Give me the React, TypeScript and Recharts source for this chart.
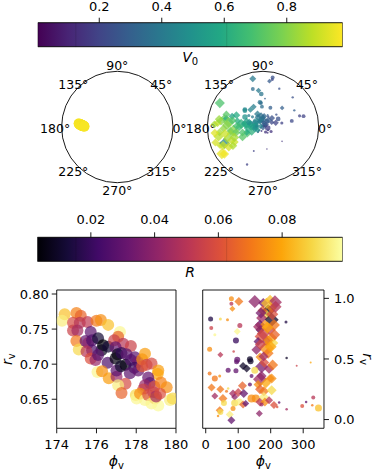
import React from "react";
import {
  Bar,
  BarChart,
  Label,
  PolarAngleAxis,
  PolarRadiusAxis,
  Radar,
  RadarChart,
  ReferenceLine,
  Scatter,
  ScatterChart,
  XAxis,
  YAxis
} from "recharts";

const W = 381;
const H = 476;
const FONT = "'DejaVu Sans', sans-serif";
const THIN = 0.01; // an axis with zero size is not drawn at all

// colour bars
const v0Span = [0.003, 0.979];
const v0Ticks = [0.2, 0.4, 0.6, 0.8];
const v0Seams = [0.125, 0.608];
const rSpan = [0.0032, 0.099];
const rTicks = [0.02, 0.04, 0.06, 0.08];
const rSeams = [0.0153, 0.0626];

const angleLabels = ["0°", "45°", "90°", "135°", "180°", "225°", "270°", "315°"];

// left run: phi (deg), r, R (colour); V0 is the same for every point
const leftPhi = [
  174.4, 174.27, 174.99, 175.21, 174.82, 175.16, 175.55, 174.82, 175.04, 175.71,
  176.0, 176.22, 176.59, 174.99, 175.11, 175.45, 175.58, 175.78, 176.08, 176.33,
  176.25, 176.59, 175.78, 175.5, 175.71, 175.95, 176.08, 176.56, 176.05, 176.28,
  176.62, 177.01, 177.01, 177.18, 177.09, 176.89, 177.34, 176.96, 177.06, 176.96,
  177.26, 177.73, 177.51, 177.23, 177.46, 177.73, 177.93, 178.1, 177.9, 177.68,
  178.1, 178.3, 178.44, 178.52, 178.3, 178.77, 177.46, 177.09, 179.11, 179.08,
  178.6, 178.69, 178.44, 178.91, 179.24, 178.35, 179.53, 177.98, 178.02, 178.19,
  178.44, 178.6, 178.86, 178.94, 178.77, 179.11, 179.0, 179.7, 179.83, 179.2,
  177.26
];
const leftR = [
  0.771, 0.762, 0.773, 0.769, 0.759, 0.759, 0.76, 0.748, 0.748, 0.746,
  0.762, 0.763, 0.756, 0.733, 0.721, 0.733, 0.73, 0.734, 0.737, 0.727,
  0.72, 0.725, 0.72, 0.718, 0.708, 0.706, 0.713, 0.702, 0.689, 0.69,
  0.68, 0.682, 0.691, 0.746, 0.739, 0.734, 0.729, 0.724, 0.714, 0.708,
  0.716, 0.726, 0.714, 0.697, 0.699, 0.706, 0.71, 0.703, 0.695, 0.687,
  0.691, 0.707, 0.715, 0.699, 0.697, 0.701, 0.672, 0.67, 0.691, 0.686,
  0.681, 0.673, 0.67, 0.668, 0.674, 0.664, 0.667, 0.656, 0.651, 0.658,
  0.649, 0.656, 0.66, 0.651, 0.644, 0.641, 0.654, 0.649, 0.651, 0.658,
  0.659
];
const leftRc = [
  0.085, 0.095, 0.072, 0.065, 0.058, 0.05, 0.052, 0.055, 0.045, 0.028,
  0.07, 0.075, 0.085, 0.07, 0.09, 0.03, 0.04, 0.025, 0.012, 0.003,
  0.008, 0.012, 0.025, 0.05, 0.06, 0.042, 0.028, 0.025, 0.097, 0.075,
  0.078, 0.042, 0.028, 0.097, 0.065, 0.055, 0.05, 0.03, 0.008, 0.005,
  0.018, 0.055, 0.028, 0.01, 0.006, 0.025, 0.028, 0.035, 0.02, 0.028,
  0.03, 0.075, 0.078, 0.055, 0.062, 0.058, 0.058, 0.095, 0.078, 0.08,
  0.03, 0.028, 0.042, 0.058, 0.072, 0.055, 0.075, 0.09, 0.097, 0.075,
  0.097, 0.06, 0.055, 0.075, 0.097, 0.098, 0.045, 0.095, 0.09, 0.06,
  0.065
];
const leftV0 = 0.97;
const leftWeight = 12;

// right run: phi (deg), r, R, V0, weight, marker
const rightPhi = [
  79, 102, 79, 82, 151, 177, 198, 213, 192, 203,
  187, 172, 203, 167, 182, 167, 198, 172, 203, 161,
  187, 208, 187, 156, 192, 15, 45, 67, 105, 17,
  28, 97, 93, 247, 12, 86, 45, 136, 97, 249,
  95, 115, 126, 138, 167, 172, 151, 69, 93, 12,
  28, 43, 141, 167, 172, 203, 161, 167, 179, 203,
  136, 18, 45, 28, 69, 84, 100, 113, 117, 53,
  56, 89, 89, 103, 115, 123, 141, 154, 167, 179,
  182, 195, 172, 43, 45, 84, 74, 79, 38, 226,
  220, 249, 280, 323, 297, 309, 331, 328, 347, 64,
  187, 161, 177, 192, 198, 205, 175, 210, 168, 200,
  180, 195, 185, 210, 165, 215, 170, 190, 212, 178,
  206
];
const rightR = [
  0.997, 0.975, 0.955, 0.914, 0.975, 0.961, 0.989, 0.969, 0.898, 0.92,
  0.865, 0.837, 0.823, 0.782, 0.782, 0.741, 0.741, 0.686, 0.672, 0.645,
  0.645, 0.631, 0.589, 0.575, 0.548, 0.829, 0.829, 0.823, 0.777, 0.755,
  0.7, 0.727, 0.653, 0.804, 0.581, 0.562, 0.534, 0.498, 0.493, 0.507,
  0.476, 0.441, 0.421, 0.482, 0.517, 0.435, 0.407, 0.407, 0.402, 0.38,
  0.339, 0.36, 0.36, 0.333, 0.36, 0.339, 0.289, 0.25, 0.234, 0.242,
  0.289, 0.264, 0.25, 0.195, 0.256, 0.215, 0.223, 0.278, 0.215, 0.174,
  0.137, 0.187, 0.137, 0.145, 0.124, 0.132, 0.174, 0.174, 0.145, 0.187,
  0.145, 0.16, 0.124, 0.077, 0.063, 0.091, 0.041, -0.006, 0.03, 0.14,
  0.104, 0.085, 0.443, 0.471, 0.112, 0.145, 0.182, 0.118, 0.096, 0.234,
  0.959, 0.765, 0.711, 0.655, 0.339, 0.87, 0.9, 0.78, 0.62, 0.6,
  0.47, 0.42, 0.3, 0.12, 0.05, 0.93, 0.88, 0.76, 0.7, 0.52,
  0.45
];
const rightRc = [
  0.075, 0.07, 0.05, 0.075, 0.04, 0.035, 0.085, 0.045, 0.005, 0.075,
  0.09, 0.045, 0.01, 0.03, 0.075, 0.02, 0.055, 0.06, 0.075, 0.03,
  0.045, 0.09, 0.075, 0.04, 0.07, 0.015, 0.09, 0.075, 0.05, 0.055,
  0.097, 0.097, 0.02, 0.015, 0.075, 0.055, 0.05, 0.01, 0.03, 0.01,
  0.03, 0.01, 0.01, 0.01, 0.075, 0.035, 0.09, 0.03, 0.03, 0.07,
  0.07, 0.075, 0.03, 0.045, 0.04, 0.075, 0.075, 0.065, 0.07, 0.09,
  0.03, 0.07, 0.07, 0.045, 0.09, 0.045, 0.055, 0.065, 0.03, 0.07,
  0.09, 0.04, 0.09, 0.095, 0.065, 0.03, 0.075, 0.075, 0.05, 0.095,
  0.075, 0.05, 0.045, 0.07, 0.09, 0.075, 0.095, 0.03, 0.075, 0.03,
  0.06, 0.045, 0.055, 0.08, 0.06, 0.03, 0.05, 0.07, 0.085, 0.07,
  0.085, 0.045, 0.055, 0.075, 0.075, 0.06, 0.065, 0.07, 0.055, 0.08,
  0.06, 0.045, 0.08, 0.06, 0.04, 0.05, 0.035, 0.08, 0.065, 0.045,
  0.07
];
const rightV0 = [
  0.25, 0.4, 0.22, 0.28, 0.7, 0.85, 0.92, 0.95, 0.88, 0.9,
  0.85, 0.8, 0.45, 0.75, 0.82, 0.6, 0.85, 0.78, 0.88, 0.55,
  0.7, 0.9, 0.8, 0.6, 0.75, 0.2, 0.25, 0.25, 0.35, 0.2,
  0.3, 0.4, 0.38, 0.2, 0.22, 0.3, 0.3, 0.45, 0.38, 0.2,
  0.35, 0.42, 0.45, 0.48, 0.6, 0.62, 0.5, 0.3, 0.35, 0.2,
  0.25, 0.25, 0.4, 0.55, 0.6, 0.7, 0.5, 0.5, 0.55, 0.62,
  0.4, 0.2, 0.25, 0.22, 0.3, 0.32, 0.35, 0.4, 0.38, 0.28,
  0.3, 0.35, 0.33, 0.38, 0.4, 0.4, 0.45, 0.45, 0.5, 0.55,
  0.5, 0.5, 0.45, 0.25, 0.28, 0.3, 0.3, 0.3, 0.2, 0.15,
  0.15, 0.15, 0.15, 0.15, 0.15, 0.15, 0.15, 0.15, 0.18, 0.25,
  0.93, 0.72, 0.8, 0.82, 0.6, 0.9, 0.88, 0.92, 0.7, 0.85,
  0.65, 0.7, 0.6, 0.5, 0.45, 0.96, 0.83, 0.9, 0.86, 0.68,
  0.72
];
const rightWeight = [
  5, 9, 4, 6, 13, 10, 10, 14, 13, 10,
  10, 11, 14, 10, 10, 9, 11, 14, 11, 9,
  10, 10, 15, 10, 11, 5, 3, 3, 5, 4,
  3, 7, 6, 3, 5, 2.5, 6, 6, 6, 2.5,
  5, 8, 8, 6, 9, 13, 7, 5, 5, 4,
  6, 3, 4, 14, 10, 10, 9, 10, 10, 10,
  4, 8, 8, 7, 2.5, 8, 9, 9, 9, 9,
  6, 7, 7, 7, 8, 7, 8, 8, 9, 10,
  9, 8, 4, 8, 6, 5, 8, 8, 2.5, 2.5,
  2.5, 2.5, 2, 2, 4, 2.5, 4, 2.5, 7, 3,
  11, 10, 13, 10, 9, 12, 10, 12, 11, 12,
  10, 10, 10, 8, 7, 12, 11, 12, 11, 10,
  11
];
const rightShape = [
  "o", "D", "o", "D", "D", "D", "D", "D", "D", "D",
  "D", "D", "D", "D", "D", "D", "D", "D", "D", "D",
  "D", "D", "D", "D", "D", "o", "o", "o", "o", "o",
  "o", "D", "o", "o", "o", "o", "D", "o", "o", "o",
  "o", "D", "D", "o", "D", "D", "o", "o", "o", "o",
  "o", "o", "o", "D", "D", "D", "D", "D", "D", "D",
  "o", "D", "D", "D", "o", "D", "D", "D", "D", "D",
  "o", "D", "o", "o", "D", "D", "o", "o", "D", "D",
  "D", "D", "o", "D", "o", "o", "D", "D", "o", "o",
  "o", "o", "o", "o", "o", "o", "o", "o", "o", "o",
  "D", "D", "D", "D", "D", "D", "D", "D", "D", "D",
  "D", "D", "D", "D", "D", "D", "D", "D", "D", "D",
  "D"
];

// axes
const leftXDomain = [174, 180];
const leftYDomain = [0.6086, 0.8057];
const leftXTicks = [174, 176, 178, 180];
const leftYTicks = [0.65, 0.7, 0.75, 0.8];
const leftYMinor = [0.61, 0.62, 0.63, 0.64, 0.66, 0.67, 0.68, 0.69, 0.71, 0.72, 0.73, 0.74, 0.76, 0.77, 0.78, 0.79];
const rightXDomain = [-9.3, 364];
const rightYDomain = [-0.072, 1.069];
const rightXTicks = [0, 100, 200, 300];
const rightXMinor = [20, 40, 60, 80, 120, 140, 160, 180, 220, 240, 260, 280, 320, 340, 360];
const rightYTicks = [0, 0.5, 1];
const rightYMinor = [0.1, 0.2, 0.3, 0.4, 0.6, 0.7, 0.8, 0.9];
const polarMax = 1.1;

const viridis = ["#440154", "#482475", "#414487", "#355f8d", "#2a788e", "#21918c", "#22a884", "#44bf70", "#7ad151", "#bddf26", "#fde725"];
const inferno = ["#000004", "#160b39", "#420a68", "#6a176e", "#932667", "#bc3754", "#dd513a", "#f37819", "#fca50a", "#f6d746", "#fcffa4"];

function hex(h: string) {
  return [1, 3, 5].map((i) => parseInt(h.slice(i, i + 2), 16));
}

function colourAt(stops: string[], t: number) {
  const u = Math.min(1, Math.max(0, t)) * (stops.length - 1);
  const i = Math.min(stops.length - 2, Math.floor(u));
  const f = u - i;
  const a = hex(stops[i]);
  const b = hex(stops[i + 1]);
  const c = a.map((v, k) => Math.round(v + (b[k] - v) * f));
  return `rgb(${c[0]},${c[1]},${c[2]})`;
}

const v0Colour = (v: number) => colourAt(viridis, (v - v0Span[0]) / (v0Span[1] - v0Span[0]));
const rColour = (v: number) => colourAt(inferno, (v - rSpan[0]) / (rSpan[1] - rSpan[0]));

const toXY = (phi: number, r: number) => ({
  x: r * Math.cos((phi * Math.PI) / 180),
  y: r * Math.sin((phi * Math.PI) / 180)
});

const leftRows = leftPhi.map((phi, i) => ({
  phi, r: leftR[i], R: leftRc[i], V0: leftV0, w: leftWeight, shape: "o", ...toXY(phi, leftR[i])
}));
const rightRows = rightPhi.map((phi, i) => ({
  phi, r: rightR[i], R: rightRc[i], V0: rightV0[i], w: rightWeight[i], shape: rightShape[i], ...toXY(phi, rightR[i])
}));
const angleRows = angleLabels.map((label) => ({ label, zero: 0 }));

const tickFont = { fontSize: 13, fill: "#000", fontFamily: FONT };
const black = { stroke: "#000", strokeWidth: 0.9 };

function marker(colourOf: (d: any) => string, scale: number, alpha: number) {
  return (props: any) => {
    const { cx, cy, payload } = props;
    if (!Number.isFinite(cx) || !Number.isFinite(cy)) return <g />;
    const h = (payload.w * scale) / 2;
    const fill = colourOf(payload);
    if (payload.shape === "D") {
      return (
        <polygon
          points={`${cx},${cy - h} ${cx + h},${cy} ${cx},${cy + h} ${cx - h},${cy}`}
          fill={fill}
          fillOpacity={alpha}
        />
      );
    }
    return <circle cx={cx} cy={cy} r={h} fill={fill} fillOpacity={alpha} />;
  };
}

function MathText({ x, y, main, sub, rotate = 0 }: any) {
  return (
    <text
      x={x}
      y={y}
      textAnchor="middle"
      fontFamily={FONT}
      fontSize={14}
      fill="#000"
      transform={rotate ? `rotate(${rotate}, ${x}, ${y})` : undefined}
    >
      <tspan fontStyle="italic">{main}</tspan>
      <tspan fontSize={10} dy={3}>
        {sub}
      </tspan>
    </text>
  );
}

function ColourBar({ top, left, right, span, ticks, seams, stops, id, main, sub, decimals, tickMargin }: any) {
  const bottom = top + 24.5;
  return (
    <BarChart
      width={W}
      height={H}
      layout="vertical"
      data={[{ name: id, span }]}
      barCategoryGap={0}
      margin={{ top, left, right: W - right, bottom: H - bottom }}
    >
      <defs>
        <linearGradient id={id} x1="0" y1="0" x2="1" y2="0">
          {stops.map((c: string, i: number) => (
            <stop key={i} offset={i / (stops.length - 1)} stopColor={c} />
          ))}
        </linearGradient>
      </defs>
      <XAxis
        type="number"
        orientation="top"
        domain={span}
        allowDataOverflow
        ticks={ticks}
        interval={0}
        height={THIN}
        tickSize={5}
        tickMargin={tickMargin}
        tick={tickFont}
        tickLine={black}
        axisLine={false}
        tickFormatter={(v: number) => v.toFixed(decimals)}
      />
      <XAxis
        xAxisId="label"
        type="number"
        orientation="bottom"
        domain={span}
        ticks={[span[0]]}
        height={THIN}
        tick={false}
        tickLine={false}
        axisLine={false}
      >
        <Label
          content={(p: any) => (
            <MathText x={p.viewBox.x + p.viewBox.width / 2} y={p.viewBox.y + 15} main={main} sub={sub} />
          )}
        />
      </XAxis>
      <YAxis type="category" dataKey="name" hide />
      <Bar dataKey="span" fill={`url(#${id})`} stroke="#000" strokeWidth={0.9} isAnimationActive={false} />
      {seams.map((s: number) => (
        <ReferenceLine key={s} x={s} stroke="rgba(0,0,0,0.12)" strokeWidth={1} />
      ))}
    </BarChart>
  );
}

function PolarFrame({ cx, cy, radius }: any) {
  return (
    <RadarChart
      width={W}
      height={H}
      cx={cx}
      cy={cy}
      outerRadius={radius}
      startAngle={45}
      endAngle={405}
      data={angleRows}
      margin={{ top: 0, left: 0, right: 0, bottom: 0 }}
    >
      <PolarAngleAxis
        dataKey="label"
        axisLineType="circle"
        axisLine={black}
        tickLine={false}
        tickSize={6.5}
        tick={(p: any) => (
          <text
            x={p.x}
            y={p.y + 1}
            textAnchor="middle"
            dominantBaseline="central"
            fontFamily={FONT}
            fontSize={12.5}
            fill="#000"
          >
            {p.payload.value}
          </text>
        )}
      />
      <PolarRadiusAxis domain={[0, 1]} tick={false} axisLine={false} />
      <Radar dataKey="zero" stroke="none" fill="none" dot={false} isAnimationActive={false} />
    </RadarChart>
  );
}

function PolarPoints({ cx, cy, radius, rows, colourOf }: any) {
  return (
    <ScatterChart
      width={W}
      height={H}
      margin={{ top: cy - radius, left: cx - radius, right: W - cx - radius, bottom: H - cy - radius }}
    >
      <XAxis type="number" dataKey="x" domain={[-polarMax, polarMax]} allowDataOverflow hide />
      <YAxis type="number" dataKey="y" domain={[-polarMax, polarMax]} allowDataOverflow hide />
      <Scatter data={rows} shape={marker(colourOf, 0.78, 0.75)} isAnimationActive={false} />
    </ScatterChart>
  );
}

function LeftPanel() {
  return (
    <ScatterChart width={W} height={H} margin={{ top: 290, left: 56.7, right: W - 176, bottom: H - 428.3 }}>
      <XAxis
        type="number"
        dataKey="phi"
        domain={leftXDomain}
        allowDataOverflow
        ticks={leftXTicks}
        interval={0}
        height={THIN}
        tickSize={5}
        tickMargin={6}
        tick={tickFont}
        tickLine={black}
        axisLine={black}
      >
        <Label
          content={(p: any) => (
            <MathText x={p.viewBox.x + p.viewBox.width / 2} y={p.viewBox.y + 37.5} main="ϕ" sub="v" />
          )}
        />
      </XAxis>
      <XAxis xAxisId="top" type="number" orientation="top" domain={leftXDomain} height={THIN} tick={false} tickLine={false} axisLine={black} />
      <YAxis
        type="number"
        dataKey="r"
        domain={leftYDomain}
        allowDataOverflow
        ticks={leftYTicks}
        interval={0}
        width={THIN}
        tickSize={5}
        tickMargin={3}
        tick={tickFont}
        tickLine={black}
        axisLine={black}
        tickFormatter={(v: number) => v.toFixed(2)}
      >
        <Label
          content={(p: any) => (
            <MathText x={12} y={p.viewBox.y + p.viewBox.height / 2} main="r" sub="v" rotate={-90} />
          )}
        />
      </YAxis>
      <YAxis yAxisId="minor" type="number" domain={leftYDomain} ticks={leftYMinor} interval={0} width={THIN} tickSize={2.6} tick={false} tickLine={black} axisLine={false} />
      <YAxis yAxisId="right" type="number" orientation="right" domain={leftYDomain} width={THIN} tick={false} tickLine={false} axisLine={black} />
      <Scatter data={leftRows} shape={marker((d) => rColour(d.R), 1, 0.7)} isAnimationActive={false} />
    </ScatterChart>
  );
}

function RightPanel() {
  return (
    <ScatterChart width={W} height={H} margin={{ top: 290, left: 202.7, right: W - 324, bottom: H - 428.3 }}>
      <XAxis
        type="number"
        dataKey="phi"
        domain={rightXDomain}
        allowDataOverflow
        ticks={rightXTicks}
        interval={0}
        height={THIN}
        tickSize={5}
        tickMargin={6}
        tick={tickFont}
        tickLine={black}
        axisLine={black}
      >
        <Label
          content={(p: any) => (
            <MathText x={p.viewBox.x + p.viewBox.width / 2} y={p.viewBox.y + 37.5} main="ϕ" sub="v" />
          )}
        />
      </XAxis>
      <XAxis xAxisId="minor" type="number" domain={rightXDomain} ticks={rightXMinor} interval={0} height={THIN} tickSize={2.6} tick={false} tickLine={black} axisLine={false} />
      <XAxis xAxisId="top" type="number" orientation="top" domain={rightXDomain} height={THIN} tick={false} tickLine={false} axisLine={black} />
      <YAxis
        type="number"
        dataKey="r"
        orientation="right"
        domain={rightYDomain}
        allowDataOverflow
        ticks={rightYTicks}
        interval={0}
        width={THIN}
        tickSize={5}
        tickMargin={5}
        tick={tickFont}
        tickLine={black}
        axisLine={black}
        tickFormatter={(v: number) => v.toFixed(1)}
      >
        <Label
          content={(p: any) => (
            <MathText x={362.5} y={p.viewBox.y + p.viewBox.height / 2} main="r" sub="v" rotate={90} />
          )}
        />
      </YAxis>
      <YAxis yAxisId="minor" type="number" orientation="right" domain={rightYDomain} ticks={rightYMinor} interval={0} width={THIN} tickSize={2.6} tick={false} tickLine={black} axisLine={false} />
      <YAxis yAxisId="left" type="number" domain={rightYDomain} width={THIN} tick={false} tickLine={false} axisLine={black} />
      <Scatter data={rightRows} shape={marker((d) => rColour(d.R), 1, 0.75)} isAnimationActive={false} />
    </ScatterChart>
  );
}

const layer = { position: "absolute" as const, left: 0, top: 0 };

export default function App() {
  return (
    <div style={{ position: "absolute", left: 0, top: 0, width: W, height: H, background: "#fff", overflow: "hidden" }}>
      <div style={layer}>
        <ColourBar top={22.7} left={37.7} right={342.7} span={v0Span} ticks={v0Ticks} seams={v0Seams}
          stops={viridis} id="v0bar" main="V" sub="0" decimals={1} tickMargin={7} />
      </div>
      <div style={layer}>
        <ColourBar top={237.3} left={37.3} right={342.7} span={rSpan} ticks={rTicks} seams={rSeams}
          stops={inferno} id="rbar" main="R" sub="" decimals={2} tickMargin={8.3} />
      </div>
      <div style={layer}><PolarFrame cx={117.3} cy={127} radius={55.7} /></div>
      <div style={layer}><PolarFrame cx={263} cy={127} radius={55.7} /></div>
      <div style={layer}>
        <PolarPoints cx={117.3} cy={127} radius={55.7} rows={leftRows} colourOf={(d: any) => v0Colour(d.V0)} />
      </div>
      <div style={layer}>
        <PolarPoints cx={263} cy={127} radius={55.7} rows={rightRows} colourOf={(d: any) => v0Colour(d.V0)} />
      </div>
      <div style={layer}><LeftPanel /></div>
      <div style={layer}><RightPanel /></div>
    </div>
  );
}
